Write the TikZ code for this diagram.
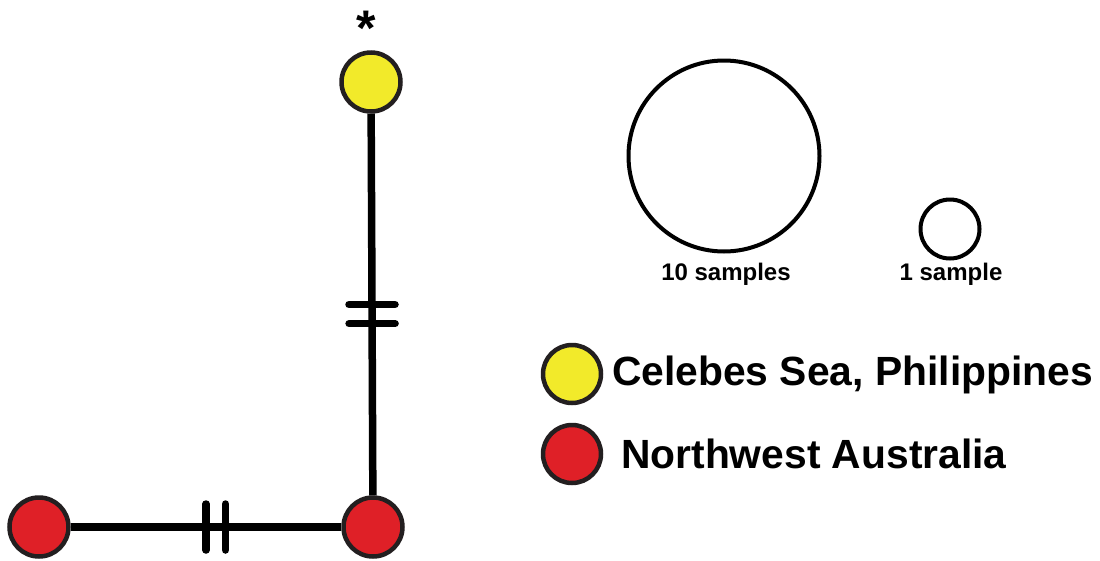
\documentclass[tikz,border=0pt]{standalone}
\usepackage{fontspec}
\setmainfont{Liberation Sans}
\usetikzlibrary{calc}

\definecolor{hapyellow}{HTML}{F2EA2A}
\definecolor{hapred}{HTML}{DF2027}
\definecolor{hapline}{HTML}{231F20}

\begin{document}
\begin{tikzpicture}
[
x=1pt, y=-1pt,
hap/.style={circle, draw=hapline, line width=4.5pt, inner sep=0pt, minimum size=59pt},
scalecirc/.style={circle, draw=black, line width=4pt, inner sep=0pt},
branch/.style={line width=7.5pt, draw=black},
tick/.style={line width=7.5pt, line cap=round},
legendtext/.style={font=\fontsize{40.8}{48}\selectfont\bfseries, anchor=base west, inner sep=0pt},
sizetext/.style={font=\fontsize{24}{29}\selectfont\bfseries, anchor=base, inner sep=0pt}
]
\useasboundingbox (0,0) rectangle (1100,560);

\node[hap, fill=hapyellow] (celebes) at (371,82) {};
\node[hap, fill=hapred] (nwaus) at (373,527) {};
\node[hap, fill=hapred] (nwausb) at (39,527) {};
\node[font=\fontsize{50}{54}\selectfont\bfseries, anchor=north, inner sep=0pt] (star) at (366,11) {*};

\path[branch] (celebes) -- (nwaus) coordinate[pos=0.5] (vtick1) coordinate[pos=0.55] (vtick2);
\path[branch] (nwausb) -- (nwaus) coordinate[pos=0.5] (htick1) coordinate[pos=0.572] (htick2);

\draw[tick] ([xshift=-23pt]vtick1) -- ([xshift=23pt]vtick1);
\draw[tick] ([xshift=-23pt]vtick2) -- ([xshift=23pt]vtick2);
\draw[tick] ([yshift=-23pt]htick1) -- ([yshift=23pt]htick1);
\draw[tick] ([yshift=-23pt]htick2) -- ([yshift=23pt]htick2);

\node[scalecirc, minimum size=191pt] (ten) at (724,156) {};
\node[scalecirc, minimum size=59pt] (one) at (950,229) {};
\node[sizetext] (tenlabel) at (726,280) {10 samples};
\node[sizetext] (onelabel) at (951,280) {1 sample};

\node[hap, fill=hapyellow, minimum size=58pt] (keyyellow) at (572,374) {};
\node[hap, fill=hapred, minimum size=58pt] (keyred) at (572,454) {};
\node[legendtext] (keyyellowtext) at (612,385) {Celebes Sea, Philippines};
\node[legendtext] (keyredtext) at (621,468) {Northwest Australia};
\end{tikzpicture}
\end{document}
